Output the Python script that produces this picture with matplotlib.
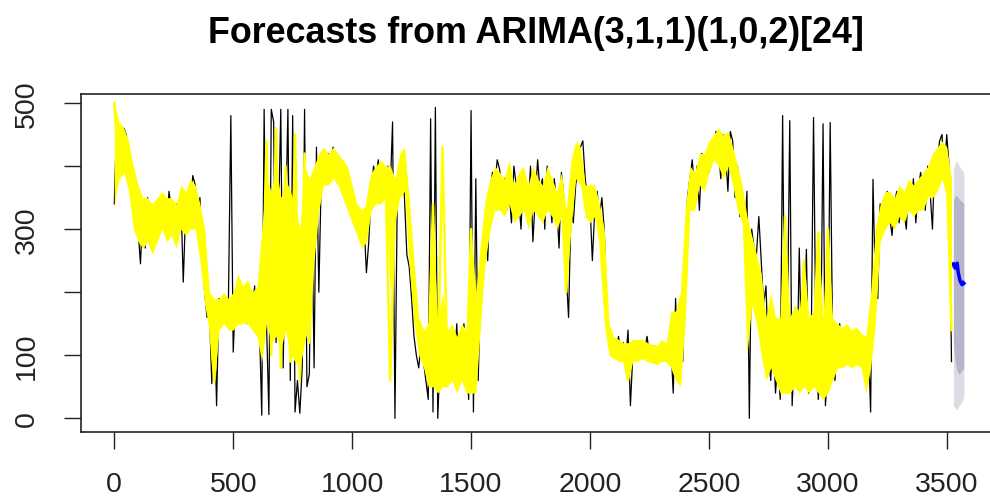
import numpy as np
import matplotlib
matplotlib.use("Agg")
import matplotlib.pyplot as plt

observed = [
    340, 470, 430, 400, 460, 450, 420, 360, 330, 370,
    300, 245, 330, 270, 350, 300, 320, 280, 340, 310,
    350, 320, 300, 360, 330, 290, 340, 310, 350, 216,
    330, 360, 340, 385, 370, 330, 350, 250, 200, 160,
    170, 55, 180, 20, 190, 160, 175, 150, 190, 480,
    105, 200, 180, 215, 160, 190, 150, 200, 170, 210,
    160, 150, 5, 490, 150, 6, 490, 470, 120, 300,
    490, 80, 300, 490, 60, 480, 10, 60, 8, 80,
    490, 50, 70, 360, 80, 430, 200, 380, 410, 400,
    420, 400, 430, 410, 380, 390, 360, 400, 370, 340,
    360, 320, 330, 300, 290, 310, 231, 280, 360, 400,
    380, 410, 350, 390, 370, 400, 360, 470, 0, 360,
    380, 420, 350, 260, 240, 190, 130, 100, 80, 120,
    90, 60, 30, 475, 10, 493, 0, 100, 60, 140,
    100, 130, 80, 90, 150, 60, 110, 150, 90, 30,
    488, 10, 380, 60, 210, 280, 300, 250, 360, 390,
    370, 410, 395, 350, 380, 330, 360, 310, 400, 370,
    350, 300, 390, 370, 330, 400, 280, 350, 410, 360,
    380, 300, 400, 360, 310, 380, 340, 270, 390, 350,
    230, 160, 330, 310, 370, 400, 430, 440, 380, 350,
    340, 250, 330, 360, 320, 350, 300, 160, 120, 110,
    110, 100, 130, 95, 120, 90, 140, 20, 100, 110,
    100, 120, 95, 110, 130, 100, 90, 115, 105, 100,
    95, 110, 100, 105, 120, 40, 190, 60, 110, 90,
    250, 350, 380, 410, 360, 400, 330, 420, 380, 420,
    390, 440, 410, 455, 430, 380, 450, 420, 360, 455,
    440, 350, 400, 320, 340, 290, 360, 0, 300, 270,
    260, 320, 250, 180, 210, 100, 60, 140, 40, 90,
    30, 480, 60, 140, 472, 20, 110, 60, 270, 90,
    150, 268, 40, 110, 477, 120, 30, 100, 467, 20,
    80, 469, 130, 60, 120, 150, 90, 140, 100, 130,
    110, 90, 140, 120, 100, 110, 95, 120, 10, 379,
    200, 190, 340, 330, 300, 360, 320, 290, 340, 360,
    310, 350, 330, 300, 370, 340, 380, 310, 360, 390,
    370, 330, 400, 360, 300, 420, 400, 440, 450, 390,
    450, 400, 90,
]

# fitted values (yellow), every 20 steps
fitted = [
    500, 380, 440, 420, 370, 340, 310, 330, 290, 320,
    340, 300, 330, 290, 340, 320, 350, 340, 300, 220,
    160, 60, 170, 180, 160, 150, 200, 170, 190, 160,
    180, 120, 440, 100, 460, 80, 400, 90, 450, 60,
    420, 120, 300, 370, 420, 400, 390, 410, 360, 380,
    340, 310, 290, 330, 380, 360, 400, 390, 60, 340,
    380, 420, 300, 200, 130, 110, 80, 340, 60, 430,
    80, 130, 60, 120, 70, 300, 60, 200, 320, 350,
    380, 360, 340, 390, 330, 360, 370, 320, 380, 350,
    330, 370, 350, 320, 360, 200, 350, 420, 410, 340,
    330, 350, 300, 190, 120, 110, 105, 100, 60, 110,
    100, 110, 105, 100, 95, 110, 100, 130, 150, 60,
    260, 370, 350, 400, 390, 420, 440, 430, 410, 440,
    400, 360, 340, 260, 240, 200, 150, 90, 150, 120,
    80, 320, 60, 150, 90, 250, 60, 120, 295, 50,
    300, 90, 120, 100, 130, 110, 120, 100, 90, 110,
    200, 310, 340, 330, 320, 350, 330, 360, 340, 350,
    360, 380, 400, 380, 420, 400, 140,
]

# spread of the fitted (yellow) trace in each 20-step window
fit_lo = [
    340, 380, 390, 360, 300, 280, 270, 280, 260, 280,
    300, 280, 290, 270, 300, 290, 300, 300, 250, 180,
    140, 50, 140, 150, 140, 140, 150, 150, 150, 140,
    130, 90, 150, 120, 130, 110, 140, 100, 90, 80,
    120, 150, 250, 330, 370, 370, 380, 370, 350, 330,
    310, 290, 270, 280, 330, 340, 340, 350, 200, 310,
    350, 360, 240, 150, 100, 80, 50, 50, 40, 50,
    50, 60, 40, 60, 40, 40, 40, 150, 250, 300,
    330, 330, 320, 340, 310, 320, 330, 300, 330, 320,
    310, 330, 320, 300, 320, 200, 300, 380, 370, 320,
    310, 320, 270, 150, 100, 95, 90, 90, 60, 90,
    90, 95, 90, 88, 85, 90, 90, 80, 60, 50,
    150, 330, 330, 370, 360, 390, 410, 400, 380, 400,
    370, 330, 310, 100, 180, 150, 100, 60, 80, 60,
    40, 40, 40, 50, 40, 50, 40, 50, 40, 30,
    40, 60, 80, 80, 85, 80, 85, 80, 40, 80,
    150, 280, 300, 310, 300, 320, 310, 330, 320, 330,
    330, 350, 350, 360, 380, 350, 130,
]
fit_hi = [
    500, 470, 460, 440, 400, 370, 350, 350, 340, 350,
    360, 350, 350, 340, 370, 360, 380, 370, 340, 300,
    200, 190, 190, 200, 190, 200, 230, 210, 220, 200,
    210, 300, 380, 360, 400, 350, 380, 360, 340, 300,
    400, 380, 400, 420, 430, 420, 430, 420, 410, 400,
    370, 340, 330, 340, 390, 400, 410, 400, 400, 380,
    420, 430, 350, 250, 160, 140, 150, 300, 150, 200,
    140, 150, 130, 150, 140, 300, 200, 280, 350, 380,
    400, 390, 380, 410, 370, 390, 400, 370, 400, 380,
    370, 400, 380, 360, 390, 330, 410, 440, 430, 370,
    370, 370, 340, 300, 150, 130, 125, 120, 120, 125,
    125, 125, 120, 118, 115, 125, 120, 170, 170, 200,
    330, 400, 390, 420, 420, 440, 450, 460, 450, 455,
    430, 400, 370, 320, 290, 260, 230, 160, 200, 160,
    160, 320, 160, 180, 170, 250, 160, 170, 295, 160,
    300, 160, 150, 145, 150, 140, 145, 135, 130, 200,
    300, 340, 360, 360, 350, 370, 360, 380, 370, 380,
    390, 400, 420, 430, 440, 430, 380,
]

# forecast (every 4 steps) and prediction intervals
fc_mean = [245, 240, 238, 242, 246, 232, 225, 218, 215, 212, 216, 214]
fc_hi80 = [345, 350, 352, 354, 352, 350, 348, 346, 345, 344, 342, 340]
fc_lo80 = [120, 100, 90, 80, 75, 72, 70, 72, 74, 76, 78, 80]
fc_hi95 = [395, 400, 405, 408, 406, 404, 400, 398, 396, 394, 392, 390]
fc_lo95 = [20, 18, 16, 14, 15, 17, 20, 22, 24, 26, 30, 35]

t_obs = np.arange(len(observed)) * 10
t_fit = np.arange(len(fitted)) * 20
t_fc = 3528 + np.arange(len(fc_mean)) * 4

plt.rcParams['font.family'] = ['Liberation Sans', 'DejaVu Sans']

fig = plt.figure(figsize=(9.9, 5.02), dpi=100)
ax = fig.add_axes([81 / 990, 1 - 432.7 / 502, 924 / 990, 337.7 / 502])

# data first, then intervals and forecast, yellow fitted trace on top
ax.plot(t_obs, observed, color='black', lw=0.9, zorder=2)
ax.fill_between(t_fc, fc_lo95, fc_hi95, color='#dcdce4', lw=0, zorder=3)
ax.fill_between(t_fc, fc_lo80, fc_hi80, color='#b6b6ca', lw=0, zorder=3)
ax.plot(t_fc, fc_mean, color='#0000ff', lw=2.5, zorder=4)
ax.fill_between(t_fit, fit_lo, fit_hi, color='#ffff00', lw=0, zorder=5)
ax.plot(t_fit, fitted, color='#ffff00', lw=1.8, zorder=6)

ax.set_xlim(-140, 3745)
ax.set_ylim(-21.2, 514.3)
ax.set_xticks(range(0, 4000, 500))
ax.set_yticks(range(0, 600, 100))
ax.set_yticklabels(['0', '100', '', '300', '', '500'])
ax.tick_params(length=12.5, width=1, labelsize=20.5, color='#222222',
               labelcolor='#222222')
ax.tick_params(axis='x', pad=16)
ax.tick_params(axis='y', pad=17)
for lbl in ax.get_yticklabels():
    lbl.set_rotation(90)
    lbl.set_va('center')
for sp in ax.spines.values():
    sp.set_linewidth(1.2)
    sp.set_color('#222222')
    sp.set_zorder(10)

fig.text(0.541, 1 - 34 / 502, 'Forecasts from ARIMA(3,1,1)(1,0,2)[24]',
         ha='center', va='center', fontsize=25.8, fontweight='bold')

fig.savefig('out.png', dpi=100)
